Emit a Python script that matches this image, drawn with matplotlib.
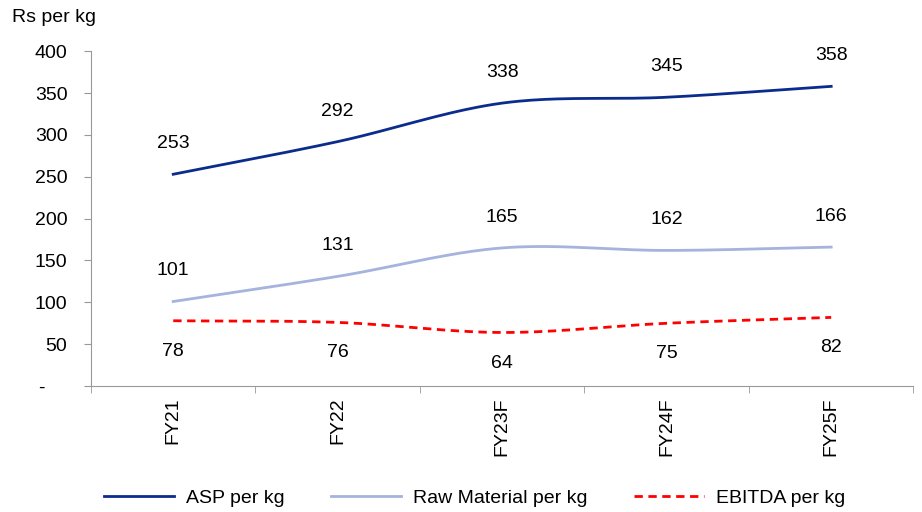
import matplotlib.pyplot as plt
import numpy as np

plt.rcParams['font.family'] = ['Liberation Sans', 'DejaVu Sans']

years = ['FY21', 'FY22', 'FY23F', 'FY24F', 'FY25F']
asp = [253, 292, 338, 345, 358]
raw_material = [101, 131, 165, 162, 166]
ebitda = [78, 76, 64, 75, 82]


def smooth(x, y, steps=40):
    # Catmull-Rom curve through the points, like a smoothed line in a spreadsheet chart
    x = np.asarray(x, float)
    y = np.asarray(y, float)
    px = np.concatenate([[2 * x[0] - x[1]], x, [2 * x[-1] - x[-2]]])
    py = np.concatenate([[2 * y[0] - y[1]], y, [2 * y[-1] - y[-2]]])
    xs, ys = [], []
    t = np.linspace(0, 1, steps)
    for i in range(1, len(px) - 2):
        for p, out in ((px, xs), (py, ys)):
            p0, p1, p2, p3 = p[i - 1], p[i], p[i + 1], p[i + 2]
            seg = 0.5 * ((2 * p1) + (-p0 + p2) * t
                         + (2 * p0 - 5 * p1 + 4 * p2 - p3) * t ** 2
                         + (-p0 + 3 * p1 - 3 * p2 + p3) * t ** 3)
            out.extend(seg)
    return np.array(xs), np.array(ys)


fs = 14
fig = plt.figure(figsize=(9.22, 5.12), dpi=100)
ax = fig.add_axes([0.0987, 0.246, 0.892, 0.654])

x = np.arange(len(years))
series = [
    (asp, 'ASP per kg', '#0B2C8C', '-', 'above'),
    (raw_material, 'Raw Material per kg', '#A5B3DD', '-', 'above'),
    (ebitda, 'EBITDA per kg', '#FF0000', (0, (3, 2)), 'below'),
]
for vals, name, color, ls, pos in series:
    sx, sy = smooth(x, vals)
    ax.plot(sx, sy, color=color, lw=2, ls=ls, label=name)
    for xi, v in zip(x, vals):
        off = 22 if pos == 'above' else -22
        ax.annotate(str(v), (xi, v), xytext=(0, off), textcoords='offset points',
                    ha='center', va='center', fontsize=fs, color='black')

ax.set_xlim(-0.5, len(years) - 0.5)
ax.set_ylim(0, 400)
ax.set_yticks(range(0, 401, 50))
ax.set_yticklabels(['-    '] + [str(v) for v in range(50, 401, 50)])
ax.set_xticks(x)
ax.set_xticklabels(years, rotation=90)
ax.set_xticks(np.arange(-0.5, len(years), 1), minor=True)
ax.tick_params(axis='x', which='major', length=0, pad=8, labelsize=fs)
ax.tick_params(axis='x', which='minor', length=5, color='#999999')
ax.tick_params(axis='y', length=5, color='#999999', labelsize=fs, pad=12)

for side in ['top', 'right']:
    ax.spines[side].set_visible(False)
for side in ['left', 'bottom']:
    ax.spines[side].set_color('#999999')

fig.text(0.013, 0.965, 'Rs per kg', fontsize=fs, va='center', ha='left')

fig.legend(loc='lower center', bbox_to_anchor=(0.515, -0.025), ncol=3, frameon=False,
           fontsize=fs, handlelength=3.6, columnspacing=2.4, handletextpad=0.6)

fig.savefig('out.png', dpi=100)
